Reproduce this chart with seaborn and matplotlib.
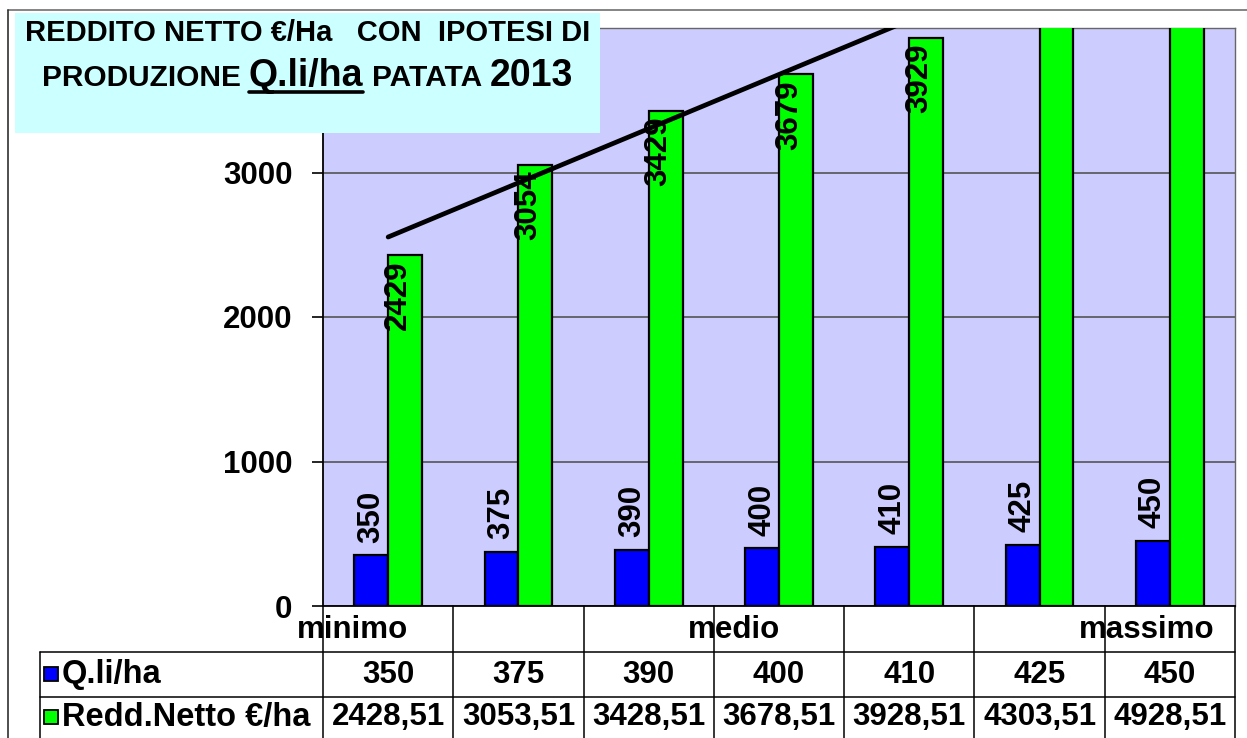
import numpy as np
import pandas as pd
import matplotlib
matplotlib.use("Agg")
import matplotlib.pyplot as plt
import seaborn as sns
from matplotlib.patches import Rectangle
from matplotlib.lines import Line2D

# ---------------- data ----------------
categorie = ["minimo", "", "", "medio", "", "", "massimo"]
quintali = [350, 375, 390, 400, 410, 425, 450]
reddito = [2428.51, 3053.51, 3428.51, 3678.51, 3928.51, 4303.51, 4928.51]
serie = ["Q.li/ha", "Redd.Netto €/ha"]
colori = ["#0000FF", "#00FF00"]
y_ticks = [0, 1000, 2000, 3000, 4000]
y_ticklabels = ["0", "1000", "2000", "3000", ""]   # 4000 hidden behind the title box
titolo_1 = "REDDITO NETTO €/Ha   CON  IPOTESI DI"
titolo_2 = [("PRODUZIONE", 21.5, False), ("Q.li/ha", 27, True), ("PATATA", 21.5, False), ("2013", 27, False)]

# ---------------- style ----------------
sns.set_theme(style="white")
plt.rcParams["font.family"] = ["Liberation Sans", "DejaVu Sans"]
plt.rcParams["font.weight"] = "bold"
plt.rcParams["text.color"] = "black"
plt.rcParams["ytick.color"] = "black"
plt.rcParams["xtick.color"] = "black"
plt.rcParams["axes.labelcolor"] = "black"

W, H = 1247, 738
fig = plt.figure(figsize=(W / 100, H / 100), dpi=100)
fig.patch.set_facecolor("white")


def fx(px):
    return px / W


def fy(py):
    return 1 - py / H


ax_l, ax_r, ax_t, ax_b = 323, 1235, 28, 606
ax = fig.add_axes([fx(ax_l), fy(ax_b), (ax_r - ax_l) / W, (ax_b - ax_t) / H])

n = len(categorie)
df = pd.DataFrame({
    "pos": list(range(n)) * 2,
    "serie": [serie[0]] * n + [serie[1]] * n,
    "valore": quintali + reddito,
})
sns.barplot(data=df, x="pos", y="valore", hue="serie", hue_order=serie,
            palette=colori, width=0.52, edgecolor="black", linewidth=1.6,
            saturation=1, errorbar=None, legend=False, ax=ax, zorder=3)

ax.set_xlim(-0.5, n - 0.5)
ax.set_ylim(0, 4000)
ax.set_facecolor("#CCCCFF")
ax.set_xlabel("")
ax.set_ylabel("")
ax.set_xticks([])
ax.set_yticks(y_ticks)
ax.set_yticklabels(y_ticklabels, fontsize=22.5, fontweight="bold", color="black")
ax.tick_params(axis="y", left=True, direction="out", length=8, width=1.2,
               color="black", pad=14)
ax.yaxis.grid(True, color="#555555", lw=1.2)
ax.set_axisbelow(True)
for s in ["left", "bottom"]:
    ax.spines[s].set_color("black")
    ax.spines[s].set_linewidth(1.3)
for s in ["top", "right"]:
    ax.spines[s].set_color("#666666")
    ax.spines[s].set_linewidth(1.0)

# data labels
ymax = ax.get_ylim()[1]
for bar, v in zip(ax.containers[0], quintali):
    cx = bar.get_x() + bar.get_width() / 2
    ax.annotate(f"{v:.0f}", xy=(cx, v), xytext=(0, 9), textcoords="offset points",
                rotation=90, ha="center", va="bottom", fontsize=22.5,
                fontweight="bold", color="black", zorder=6)
for bar, v in zip(ax.containers[1], reddito):
    if v > ymax:
        continue
    cx = bar.get_x() + bar.get_width() / 2
    ax.annotate(f"{v:.0f}", xy=(cx, v), xytext=(-5, -4), textcoords="offset points",
                rotation=90, ha="center", va="top", fontsize=22.5,
                fontweight="bold", color="black", zorder=6)

# linear trend line on Redd.Netto
xs = np.arange(n)
coef = np.polyfit(xs, reddito, 1)
xe = np.array([0, n - 1])
ax.plot(xe, np.polyval(coef, xe), color="black", lw=3.4, solid_capstyle="round", zorder=7)

# ---------------- data table ----------------
tb_bottom = 606 + 3 * 45.5
axt = fig.add_axes([fx(ax_l), fy(tb_bottom), (ax_r - ax_l) / W, (tb_bottom - 606) / H])
axt.set_xlim(-0.5, n - 0.5)
axt.set_ylim(3, 0)
axt.axis("off")
cat_px = (ax_r - ax_l) / n
x_left = -0.5 + (40 - ax_l) / cat_px
lk = dict(color="black", lw=1.1, clip_on=False)
for k in range(n + 1):
    axt.plot([k - 0.5, k - 0.5], [0, 3], **lk)
for r in (1, 2):
    axt.plot([x_left, n - 0.5], [r, r], **lk)
axt.plot([x_left, x_left], [1, 3], **lk)

for i, c in enumerate(categorie):
    if c:
        axt.text(i - 0.5 - 0.2, 0.52, c, ha="left", va="center", fontsize=22.5,
                 fontweight="bold", clip_on=False)
for i, v in enumerate(quintali):
    axt.text(i, 1.52, f"{v}", ha="center", va="center", fontsize=22.5, fontweight="bold")
for i, v in enumerate(reddito):
    axt.text(i, 2.45, f"{v:.2f}".replace(".", ","), ha="center", va="center",
             fontsize=22.5, fontweight="bold")

x_key = -0.5 + (51 - ax_l) / cat_px
x_lab = -0.5 + (62 - ax_l) / cat_px
for r, (s, col) in enumerate(zip(serie, colori)):
    yy = 1.5 + r if r == 0 else 2.45
    axt.plot([x_key], [yy], marker="s", ms=10.5, mfc=col, mec="black", mew=1.3,
             clip_on=False)
    axt.text(x_lab, yy, s, ha="left", va="center", fontsize=23.5, fontweight="bold",
             clip_on=False)

# ---------------- outer frame ----------------
fig.add_artist(Line2D([fx(8), 1], [fy(10), fy(10)], transform=fig.transFigure,
                      color="#707070", lw=1.2))
fig.add_artist(Line2D([fx(8), fx(8)], [fy(10), 0], transform=fig.transFigure,
                      color="#303030", lw=1.2))

# ---------------- title box ----------------
fig.add_artist(Rectangle((fx(15), fy(133)), (600 - 15) / W, (133 - 13) / H,
                         transform=fig.transFigure, facecolor="#CCFFFF",
                         edgecolor="none", zorder=2))
cx_box = (15 + 600) / 2
fig.text(fx(cx_box), fy(41), titolo_1, ha="center", va="baseline", fontsize=21,
         fontweight="bold", zorder=3)

renderer = fig.canvas.get_renderer()
texts = []
widths = []
for txt, fs, und in titolo_2:
    t = fig.text(0, fy(86), txt, ha="left", va="baseline", fontsize=fs,
                 fontweight="bold", zorder=3)
    texts.append(t)
    widths.append(t.get_window_extent(renderer).width)
space_px = 0.278 * 21.5 * 100 / 72
total = sum(widths) + space_px * (len(widths) - 1)
x0 = cx_box - total / 2
for t, w, (txt, fs, und) in zip(texts, widths, titolo_2):
    t.set_x(fx(x0))
    if und:
        fig.add_artist(Line2D([fx(x0), fx(x0 + w)], [fy(92), fy(92)],
                              transform=fig.transFigure, color="black", lw=2.6,
                              zorder=3))
    x0 += w + space_px

fig.savefig("out.png", dpi=100)
